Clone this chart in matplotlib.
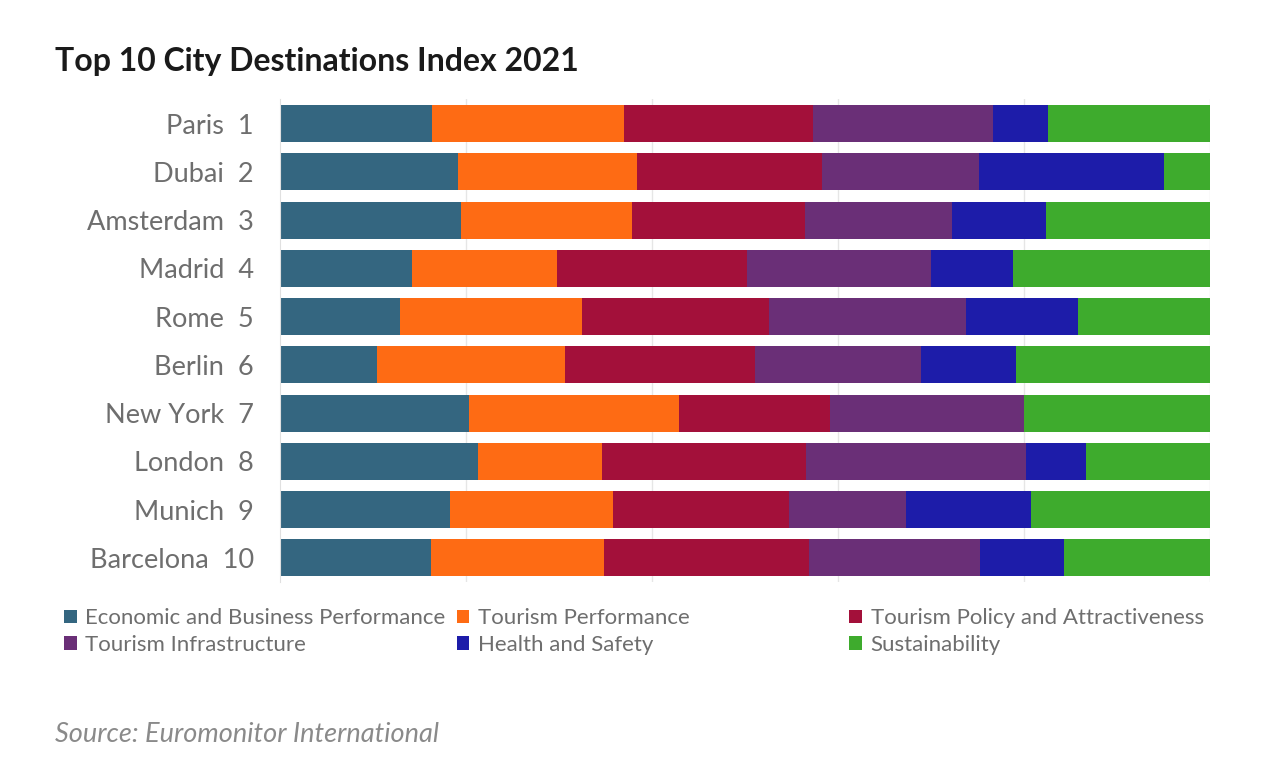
import matplotlib.pyplot as plt
import numpy as np

plt.rcParams['font.family'] = ['Lato', 'DejaVu Sans']

cities = ["Paris", "Dubai", "Amsterdam", "Madrid", "Rome",
          "Berlin", "New York", "London", "Munich", "Barcelona"]
ranks = [1, 2, 3, 4, 5, 6, 7, 8, 9, 10]

pillars = ["Economic and Business Performance", "Tourism Performance",
           "Tourism Policy and Attractiveness", "Tourism Infrastructure",
           "Health and Safety", "Sustainability"]

# relative size of each pillar per city
economic = [16.3, 19.1, 19.5, 14.2, 12.9, 10.4, 20.3, 21.3, 18.3, 16.2]
tourism_perf = [20.6, 19.3, 18.3, 15.6, 19.6, 20.2, 22.6, 13.3, 17.5, 18.6]
policy = [20.3, 19.9, 18.7, 20.4, 20.1, 20.4, 16.2, 22.0, 18.9, 22.0]
infrastructure = [19.4, 16.9, 15.8, 19.8, 21.2, 17.8, 20.9, 23.6, 12.5, 18.4]
health = [5.9, 19.9, 10.1, 8.8, 12.0, 10.3, 0.0, 6.5, 13.5, 9.0]
sustainability = [17.4, 4.9, 17.6, 21.2, 14.2, 20.8, 20.0, 13.3, 19.2, 15.7]

colors = ["#346680", "#fe6b14", "#a3103a", "#6a2f77", "#1d1ca9", "#3eab2d"]

data = np.array([economic, tourism_perf, policy, infrastructure, health, sustainability])
shares = data / data.sum(axis=0) * 100

fig = plt.figure(figsize=(12.87, 7.67), dpi=100)
ax = fig.add_axes([0.2176, 0.2412, 0.7226, 0.6291])

y = np.arange(len(cities))
left = np.zeros(len(cities))
handles = []
for i, name in enumerate(pillars):
    h = ax.barh(y, shares[i], left=left, height=0.77, color=colors[i],
                label=name, zorder=2)
    handles.append(h)
    left += shares[i]

ax.set_xlim(0, 100)
ax.set_ylim(len(cities) - 0.5, -0.5)
ax.set_xticks([20, 40, 60, 80, 100])
ax.set_xticklabels([])
ax.grid(axis='x', color='#e6e6e6', linewidth=1, zorder=0)
ax.tick_params(axis='both', length=0)
ax.set_yticks(y)
ax.set_yticklabels([f"{c}  {r}" for c, r in zip(cities, ranks)],
                   fontsize=19.5, color='#6e6e6e')
ax.tick_params(axis='y', pad=19)
for s in ['top', 'right', 'bottom']:
    ax.spines[s].set_visible(False)
ax.spines['left'].set_color('#e0e0e0')

fig.text(0.043, 0.92, "Top 10 City Destinations Index 2021", fontsize=23,
         fontweight='bold', color='#1a1a1a', va='center')

# legend: three fixed-width columns, filled row by row
col_x = [0.05, 0.355, 0.66]
for k in range(3):
    fig.legend([handles[k], handles[k + 3]], [pillars[k], pillars[k + 3]],
               loc='upper left', bbox_to_anchor=(col_x[k], 0.207),
               frameon=False, fontsize=16, labelcolor='#6e6e6e',
               handlelength=0.55, handleheight=0.55, handletextpad=0.4,
               labelspacing=0.3, borderaxespad=0, borderpad=0)

fig.text(0.043, 0.043, "Source: Euromonitor International", fontsize=19.5,
         style='italic', color='#8a8a8a', va='center')

fig.savefig("out.png", dpi=100)
